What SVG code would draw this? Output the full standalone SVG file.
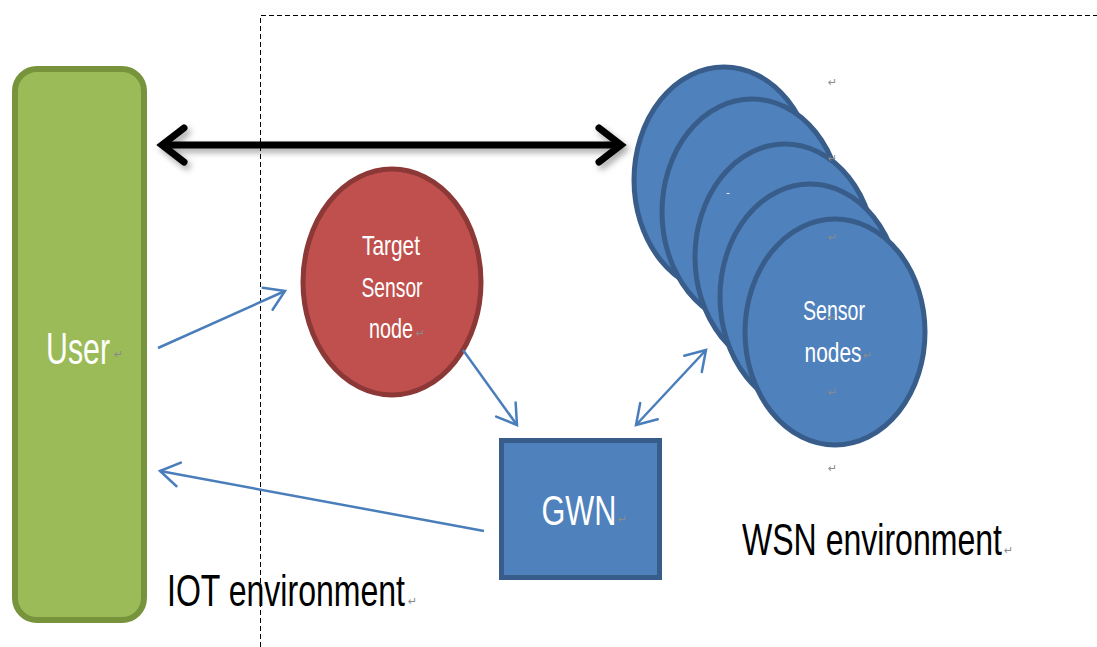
<svg xmlns="http://www.w3.org/2000/svg" width="1097" height="647" viewBox="0 0 1097 647">
<style>
.lbl{font-family:"Liberation Sans",Arial,sans-serif;fill:#ffffff;text-anchor:middle}
.big{font-family:"Liberation Sans",Arial,sans-serif;fill:#000000}
.pm{font-family:"DejaVu Sans",sans-serif;font-size:11px;fill:#8a8a8a}
.blue{fill:#4f81bd;stroke:#385d8a;stroke-width:5}
.thin{stroke:#4a7ebb;stroke-width:2.5;fill:none}
</style>
<defs>
<filter id="sh" filterUnits="userSpaceOnUse" x="120" y="100" width="560" height="100">
<feDropShadow dx="3" dy="4" stdDeviation="3" flood-color="#000" flood-opacity="0.35"/>
</filter>
<marker id="bk" markerUnits="userSpaceOnUse" viewBox="-30 -25 40 50" markerWidth="40" markerHeight="50" refX="0" refY="0" orient="auto-start-reverse" overflow="visible">
<path d="M-22,-17 L0,0 L-22,17" fill="none" stroke="#000" stroke-width="7" stroke-linecap="round" stroke-linejoin="miter"/>
</marker>
<marker id="bl" markerUnits="userSpaceOnUse" viewBox="-25 -20 30 40" markerWidth="30" markerHeight="40" refX="0" refY="0" orient="auto-start-reverse" overflow="visible">
<path d="M-19,-12 L0,0 L-19,12" fill="none" stroke="#4a7ebb" stroke-width="2.5" stroke-linecap="round"/>
</marker>
</defs>
<rect width="1097" height="647" fill="#ffffff"/>
<g id="boundary">
<path d="M260.5,647 L260.5,15.5 L1097,15.5" fill="none" stroke="#000" stroke-width="1" stroke-dasharray="5,3"/>
</g>
<g id="user">
<rect x="15" y="69" width="129" height="551" rx="22" fill="#9bbb59" stroke="#77933c" stroke-width="6"/>
<text class="lbl" x="78" y="364" font-size="44" textLength="64" lengthAdjust="spacingAndGlyphs">User</text>
<text class="pm" x="114" y="358">↵</text>
</g>
<g id="target">
<ellipse cx="392" cy="282" rx="89" ry="113" fill="#c0504d" stroke="#8c3836" stroke-width="5"/>
<text class="lbl" x="391" y="255" font-size="28" textLength="58" lengthAdjust="spacingAndGlyphs">Target</text>
<text class="lbl" x="392" y="297" font-size="28" textLength="61" lengthAdjust="spacingAndGlyphs">Sensor</text>
<text class="lbl" x="391" y="338" font-size="28" textLength="44" lengthAdjust="spacingAndGlyphs">node</text>
<text class="pm" x="416" y="337">↵</text>
</g>
<g id="sensors">
<ellipse class="blue" cx="724" cy="180" rx="90" ry="113"/>
<ellipse class="blue" cx="752" cy="212" rx="90" ry="113"/>
<ellipse class="blue" cx="785" cy="257" rx="90" ry="113"/>
<ellipse class="blue" cx="810" cy="297" rx="90" ry="113"/>
<ellipse class="blue" cx="835" cy="332" rx="90" ry="113"/>
<text class="lbl" x="728" y="196" font-size="10">-</text>
<text class="lbl" x="834" y="320" font-size="28" textLength="62" lengthAdjust="spacingAndGlyphs">Sensor</text>
<text class="lbl" x="833" y="362" font-size="28" textLength="57" lengthAdjust="spacingAndGlyphs">nodes</text>
<text class="pm" x="828" y="86">↵</text>
<text class="pm" x="828" y="162">↵</text>
<text class="pm" x="828" y="241">↵</text>
<text class="pm" x="828" y="321">↵</text>
<text class="pm" x="863" y="359">↵</text>
<text class="pm" x="828" y="396">↵</text>
<text class="pm" x="828" y="472">↵</text>
</g>
<g id="gwn">
<rect x="501.5" y="440.5" width="158" height="137" fill="#4f81bd" stroke="#385d8a" stroke-width="5"/>
<text class="lbl" x="579" y="525" font-size="42" textLength="75" lengthAdjust="spacingAndGlyphs">GWN</text>
<text class="pm" x="618" y="523">↵</text>
</g>
<g id="labels">
<text class="big" x="167" y="606" font-size="44" textLength="238" lengthAdjust="spacingAndGlyphs">IOT environment</text>
<text class="pm" x="408" y="605">↵</text>
<text class="big" x="742" y="555" font-size="44" textLength="260" lengthAdjust="spacingAndGlyphs">WSN environment</text>
<text class="pm" x="1004" y="554">↵</text>
</g>
<g id="connectors">
<g filter="url(#sh)">
<line x1="162" y1="145" x2="621" y2="145" stroke="#000" stroke-width="7" marker-start="url(#bk)" marker-end="url(#bk)"/>
</g>
<line class="thin" x1="158" y1="348" x2="285" y2="291" marker-end="url(#bl)"/>
<line class="thin" x1="484" y1="531" x2="160" y2="471" marker-end="url(#bl)"/>
<line class="thin" x1="463" y1="350" x2="517" y2="425" marker-end="url(#bl)"/>
<line class="thin" x1="636" y1="425" x2="706" y2="350" marker-start="url(#bl)" marker-end="url(#bl)"/>
</g>
</svg>
